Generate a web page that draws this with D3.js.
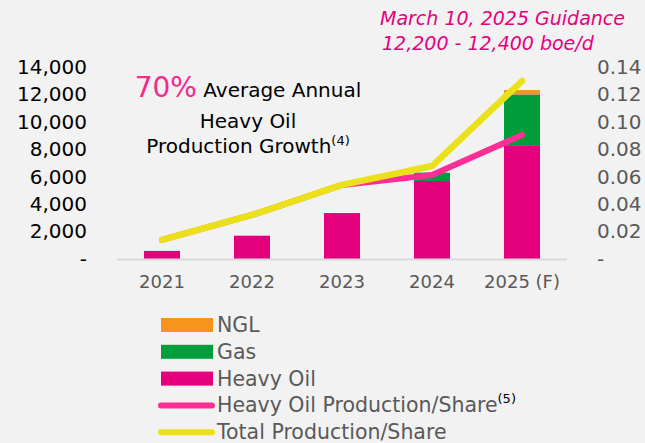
<!DOCTYPE html>
<html>
<head>
<meta charset="utf-8">
<script src="https://cdn.jsdelivr.net/npm/d3@7"></script>
<style>
  body { margin: 0; background: #f2f2f2; }
  svg { display: block; font-family: "DejaVu Sans", sans-serif; }
</style>
</head>
<body>
<svg width="645" height="443"></svg>
<script>
// chart values
var years = ["2021", "2022", "2023", "2024", "2025 (F)"];
var heavyOil = [590, 1700, 3350, 5690, 8300];
var gas = [0, 0, 0, 610, 3700];
var ngl = [0, 0, 0, 0, 320];
var heavyPerShare = [0.0139, 0.0321, 0.0540, 0.0613, 0.0904];
var totalPerShare = [0.0139, 0.0321, 0.0540, 0.0678, 0.1298];
var leftTicks = [0, 2000, 4000, 6000, 8000, 10000, 12000, 14000];
var rightTicks = [0, 0.02, 0.04, 0.06, 0.08, 0.10, 0.12, 0.14];

var colors = { heavy: "#e4007c", gas: "#009e3b", ngl: "#f7941d", pinkLine: "#ff2d96", yellow: "#ebe11a" };

var svg = d3.select("svg");

// scales
var scX = d3.scaleBand().domain(years).range([117, 567])
    .paddingInner(0.6).paddingOuter(0.3);
var scY = d3.scaleLinear().domain([0, 14000]).range([259, 67]);
var scY2 = d3.scaleLinear().domain([0, 0.14]).range([259, 67]);

// stacked bars
var rows = years.map((y, i) => ({ year: y, heavy: heavyOil[i], gas: gas[i], ngl: ngl[i] }));
var stack = d3.stack().keys(["heavy", "gas", "ngl"])(rows);
svg.append("g").selectAll("g").data(stack).enter().append("g")
    .attr("fill", d => colors[d.key])
    .selectAll("rect").data(d => d).enter().append("rect")
    .attr("x", d => scX(d.data.year))
    .attr("width", scX.bandwidth())
    .attr("y", d => scY(d[1]))
    .attr("height", d => scY(d[0]) - scY(d[1]));

// baseline
svg.append("line").attr("x1", 117).attr("x2", 567)
    .attr("y1", scY(0) + 0.5).attr("y2", scY(0) + 0.5)
    .attr("stroke", "#d9d9d9").attr("stroke-width", 2);

// left axis
var fmt = d => d === 0 ? "-" : d3.format(",")(d);
var gl = svg.append("g").attr("transform", "translate(87,0)")
    .call(d3.axisLeft(scY).tickValues(leftTicks).tickFormat(fmt).tickSize(0).tickPadding(0));
gl.attr("font-family", null).attr("font-size", null);
gl.select(".domain").remove();
gl.selectAll("text").attr("font-size", 20).attr("fill", "#000");

// right axis
var gr = svg.append("g").attr("transform", "translate(597,0)")
    .call(d3.axisRight(scY2).tickValues(rightTicks)
        .tickFormat(d => d === 0 ? "-" : d3.format(".2f")(d)).tickSize(0).tickPadding(0));
gr.attr("font-family", null).attr("font-size", null);
gr.select(".domain").remove();
gr.selectAll("text").attr("font-size", 20).attr("fill", "#595959");

// x axis
var gx = svg.append("g").attr("transform", "translate(0,275)")
    .call(d3.axisBottom(scX).tickSize(0).tickPadding(0));
gx.attr("font-family", null).attr("font-size", null);
gx.select(".domain").remove();
gx.selectAll("text").attr("font-size", 18).attr("fill", "#595959");

// lines
var lineMaker = d3.line()
    .x((d, i) => scX(years[i]) + scX.bandwidth() / 2)
    .y(d => scY2(d));
svg.append("path").attr("d", lineMaker(heavyPerShare))
    .attr("fill", "none").attr("stroke", colors.pinkLine).attr("stroke-width", 6)
    .attr("stroke-linecap", "round").attr("stroke-linejoin", "round");
svg.append("path").attr("d", lineMaker(totalPerShare))
    .attr("fill", "none").attr("stroke", colors.yellow).attr("stroke-width", 6.5)
    .attr("stroke-linecap", "round").attr("stroke-linejoin", "round");

// growth annotation
var ann = svg.append("text").attr("text-anchor", "middle").attr("fill", "#000");
var t1 = ann.append("tspan").attr("x", 248).attr("y", 97);
t1.append("tspan").attr("fill", "#f5288c").attr("font-size", 28).text("70%");
t1.append("tspan").attr("font-size", 20).text(" Average Annual");
ann.append("tspan").attr("x", 248).attr("y", 128).attr("font-size", 20).text("Heavy Oil");
var t3 = ann.append("tspan").attr("x", 248).attr("y", 153).attr("font-size", 20);
t3.append("tspan").text("Production Growth");
t3.append("tspan").attr("font-size", 13).attr("dy", -8).text("(4)");

// guidance
var gd = svg.append("text").attr("fill", "#e6007e").attr("font-style", "italic").attr("font-size", 19);
gd.append("tspan").attr("x", 380).attr("y", 25).text("March 10, 2025 Guidance");
gd.append("tspan").attr("x", 382).attr("y", 50).text("12,200 - 12,400 boe/d");

// legend
var legendItems = [
    { label: "NGL", color: colors.ngl, type: "rect" },
    { label: "Gas", color: colors.gas, type: "rect" },
    { label: "Heavy Oil", color: colors.heavy, type: "rect" },
    { label: "Heavy Oil Production/Share", sup: "(5)", color: colors.pinkLine, type: "line" },
    { label: "Total Production/Share", color: colors.yellow, type: "line" }
];
var lg = svg.append("g").selectAll("g").data(legendItems).enter().append("g")
    .attr("transform", (d, i) => "translate(0," + (325 + i * 26.8) + ")");
lg.filter(d => d.type === "rect").append("rect")
    .attr("x", 161).attr("y", -7).attr("width", 52).attr("height", 14).attr("fill", d => d.color);
lg.filter(d => d.type === "line").append("line")
    .attr("x1", 161).attr("x2", 212).attr("y1", 0).attr("y2", 0)
    .attr("stroke", d => d.color).attr("stroke-width", 6).attr("stroke-linecap", "round");
var lt = lg.append("text").attr("x", 217).attr("y", 7).attr("font-size", 20.5).attr("fill", "#595959");
lt.append("tspan").text(d => d.label);
lt.filter(d => d.sup).append("tspan").attr("font-size", 13).attr("dy", -9).attr("fill", "#000").text(d => d.sup);
</script>
</body>
</html>
